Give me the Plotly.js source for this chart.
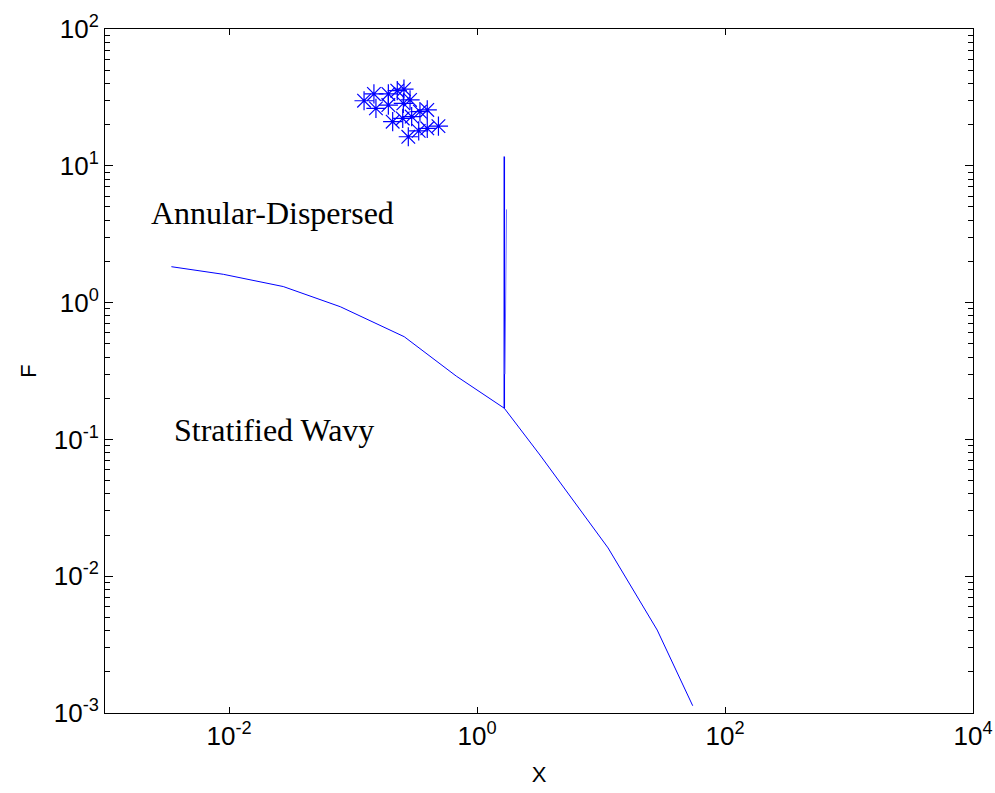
<!DOCTYPE html>
<html>
<head>
<meta charset="utf-8">
<script src="https://cdn.plot.ly/plotly-3.0.1.min.js"></script>
<style>html,body{margin:0;padding:0;background:#fff;}#chart{width:995px;height:793px;}</style>
</head>
<body>
<div id="chart"></div>
<script>
// Boundary curve (X, F)
const curveX = [0.00343, 0.00900, 0.0274, 0.0790, 0.259, 0.681, 1.66, 3.22, 11.4, 28.4, 54.9];
const curveF = [1.83, 1.61, 1.31, 0.933, 0.563, 0.290, 0.169, 0.0769, 0.0161, 0.00404, 0.00113];
// Vertical spikes
const spike1X = [1.66, 1.66];
const spike1F = [0.169, 11.7];
const spike2X = [1.68, 1.73];
const spike2F = [0.30, 4.8];
// Data points
const ptsX = [0.1228, 0.1475, 0.1928, 0.2275, 0.2576, 0.1531, 0.1928, 0.2547, 0.2884, 0.3467, 0.3971, 0.2089, 0.2518, 0.2972, 0.3388, 0.3971, 0.4887, 0.2793];
const ptsF = [29.9, 33.5, 33.5, 35.4, 36.3, 26.3, 27.8, 28.6, 30.3, 24.9, 25.6, 21.0, 22.2, 22.9, 18.0, 18.8, 19.5, 16.3];
// Ticks
const xTickVals = [0.01, 1, 100, 10000];
const xTickText = ['10<sup>-2</sup>', '10<sup>0</sup>', '10<sup>2</sup>', '10<sup>4</sup>'];
const yTickVals = [0.001, 0.01, 0.1, 1, 10, 100];
const yTickText = ['10<sup>-3</sup>', '10<sup>-2</sup>', '10<sup>-1</sup>', '10<sup>0</sup>', '10<sup>1</sup>', '10<sup>2</sup>'];
const regionLabels = ['Annular-Dispersed', 'Stratified Wavy'];

const yMinor = [];
for (let e = -3; e < 2; e++) for (let m = 2; m <= 9; m++) yMinor.push(m * Math.pow(10, e));

const blue = '#0000ff';
const traces = [
  {x: curveX, y: curveF, mode: 'lines', line: {color: blue, width: 1}, hoverinfo: 'skip'},
  {x: spike1X, y: spike1F, mode: 'lines', line: {color: blue, width: 1.5}, hoverinfo: 'skip'},
  {x: spike2X, y: spike2F, mode: 'lines', line: {color: '#6a6aff', width: 1}, hoverinfo: 'skip'},
  {x: ptsX, y: ptsF, mode: 'markers', marker: {symbol: 'asterisk-open', size: 16, color: blue, line: {color: blue, width: 1.2}}}
];

const axFont = {family: 'Liberation Sans, Arial, sans-serif', size: 26, color: '#000'};
const layout = {
  width: 995, height: 793,
  margin: {l: 105, r: 22, t: 29, b: 80},
  paper_bgcolor: '#fff', plot_bgcolor: '#fff',
  showlegend: false,
  xaxis: {
    type: 'log', range: [-3, 4],
    tickmode: 'array', tickvals: xTickVals, ticktext: xTickText,
    ticks: 'inside', ticklen: 6, tickcolor: '#000', tickwidth: 1,
    showline: true, linecolor: '#000', linewidth: 1, mirror: 'ticks',
    showgrid: false, zeroline: false,
    tickfont: axFont,
    title: {text: 'X', font: {family: 'Liberation Sans, Arial, sans-serif', size: 22, color: '#000'}, standoff: 16}
  },
  yaxis: {
    type: 'log', range: [-3, 2],
    tickmode: 'array', tickvals: yTickVals, ticktext: yTickText,
    ticks: 'inside', ticklen: 8, tickcolor: '#000', tickwidth: 1,
    minor: {tickmode: 'array', tickvals: yMinor, ticks: 'inside', ticklen: 5, tickcolor: '#000', showgrid: false},
    showline: true, linecolor: '#000', linewidth: 1, mirror: 'ticks',
    showgrid: false, zeroline: false,
    tickfont: axFont,
    title: {text: 'F', font: {family: 'Liberation Sans, Arial, sans-serif', size: 22, color: '#000'}, standoff: 11}
  },
  annotations: [
    {x: -2.645, y: 0.655, xref: 'x', yref: 'y', text: regionLabels[0], showarrow: false, xanchor: 'left', yanchor: 'middle',
     font: {family: 'Liberation Serif, Times New Roman, serif', size: 32, color: '#000'}},
    {x: -2.46, y: -0.931, xref: 'x', yref: 'y', text: regionLabels[1], showarrow: false, xanchor: 'left', yanchor: 'middle',
     font: {family: 'Liberation Serif, Times New Roman, serif', size: 32, color: '#000'}}
  ]
};
Plotly.newPlot('chart', traces, layout, {displayModeBar: false, staticPlot: true});
</script>
</body>
</html>
